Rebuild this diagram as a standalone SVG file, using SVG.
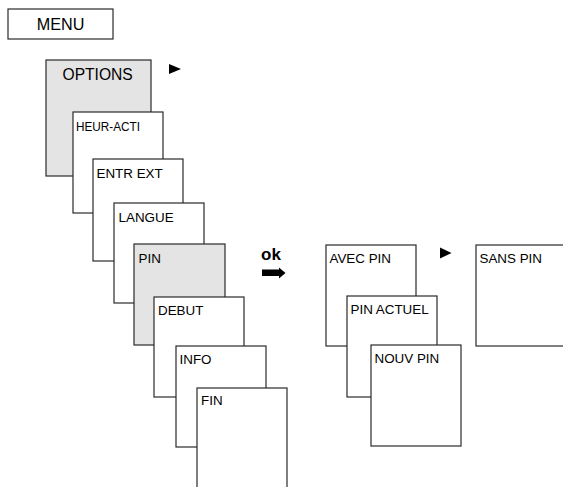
<svg xmlns="http://www.w3.org/2000/svg" width="563" height="487" viewBox="0 0 563 487">
<style>
  .box { fill: #ffffff; stroke: #2a2a2a; stroke-width: 1.2; }
  .gray { fill: #e4e4e4; }
  .t { font-family: "Liberation Sans", Arial, sans-serif; font-size: 13.4px; fill: #000000; }
  .big { font-size: 16.2px; }
  .ok { font-family: "Liberation Sans", Arial, sans-serif; font-size: 17px; font-weight: bold; fill: #000000; }
  .mark { fill: #000000; }
</style>
<rect width="563" height="487" fill="#ffffff"/>

<g id="menu">
  <rect class="box" x="8" y="9" width="105" height="30"/>
  <text class="t big" x="60.5" y="30" text-anchor="middle">MENU</text>
</g>

<g id="options">
  <rect class="box gray" x="46" y="60" width="105" height="116"/>
  <text class="t" x="62.5" y="79.5" style="font-size:15.6px">OPTIONS</text>
</g>

<g id="heur-acti">
  <rect class="box" x="73" y="112" width="90" height="101"/>
  <text class="t" x="76" y="131" textLength="64" lengthAdjust="spacingAndGlyphs">HEUR-ACTI</text>
</g>

<g id="entr-ext">
  <rect class="box" x="93" y="159" width="90" height="102"/>
  <text class="t" x="96.5" y="178">ENTR EXT</text>
</g>

<g id="langue">
  <rect class="box" x="114" y="203" width="90" height="100"/>
  <text class="t" x="118.5" y="222">LANGUE</text>
</g>

<g id="pin">
  <rect class="box gray" x="134" y="244" width="91" height="101"/>
  <text class="t" x="138.5" y="263">PIN</text>
</g>

<g id="debut">
  <rect class="box" x="154" y="297" width="90" height="100"/>
  <text class="t" x="158" y="314.5">DEBUT</text>
</g>

<g id="info">
  <rect class="box" x="176" y="346" width="90" height="101"/>
  <text class="t" x="179.5" y="363.5">INFO</text>
</g>

<g id="fin">
  <rect class="box" x="197" y="388" width="90" height="110"/>
  <text class="t" x="201" y="405">FIN</text>
</g>

<g id="avec-pin">
  <rect class="box" x="326" y="245" width="90" height="101"/>
  <text class="t" x="329.5" y="263">AVEC PIN</text>
</g>

<g id="pin-actuel">
  <rect class="box" x="347" y="296" width="90" height="101"/>
  <text class="t" x="350.5" y="314">PIN ACTUEL</text>
</g>

<g id="nouv-pin">
  <rect class="box" x="371" y="345" width="90" height="101"/>
  <text class="t" x="374.5" y="363">NOUV PIN</text>
</g>

<g id="sans-pin">
  <rect class="box" x="476" y="245" width="100" height="101"/>
  <text class="t" x="479.5" y="263">SANS PIN</text>
</g>

<g id="connectors">
  <polygon class="mark" points="169,64 181,69 169,74"/>
  <polygon class="mark" points="440,247.5 451.5,253 440,258.5"/>
  <text class="ok" x="261" y="260">ok</text>
  <polygon class="mark" points="262,269.5 279,269.5 279,267.5 285.5,273 279,278.5 279,276 262,276"/>
</g>
</svg>
